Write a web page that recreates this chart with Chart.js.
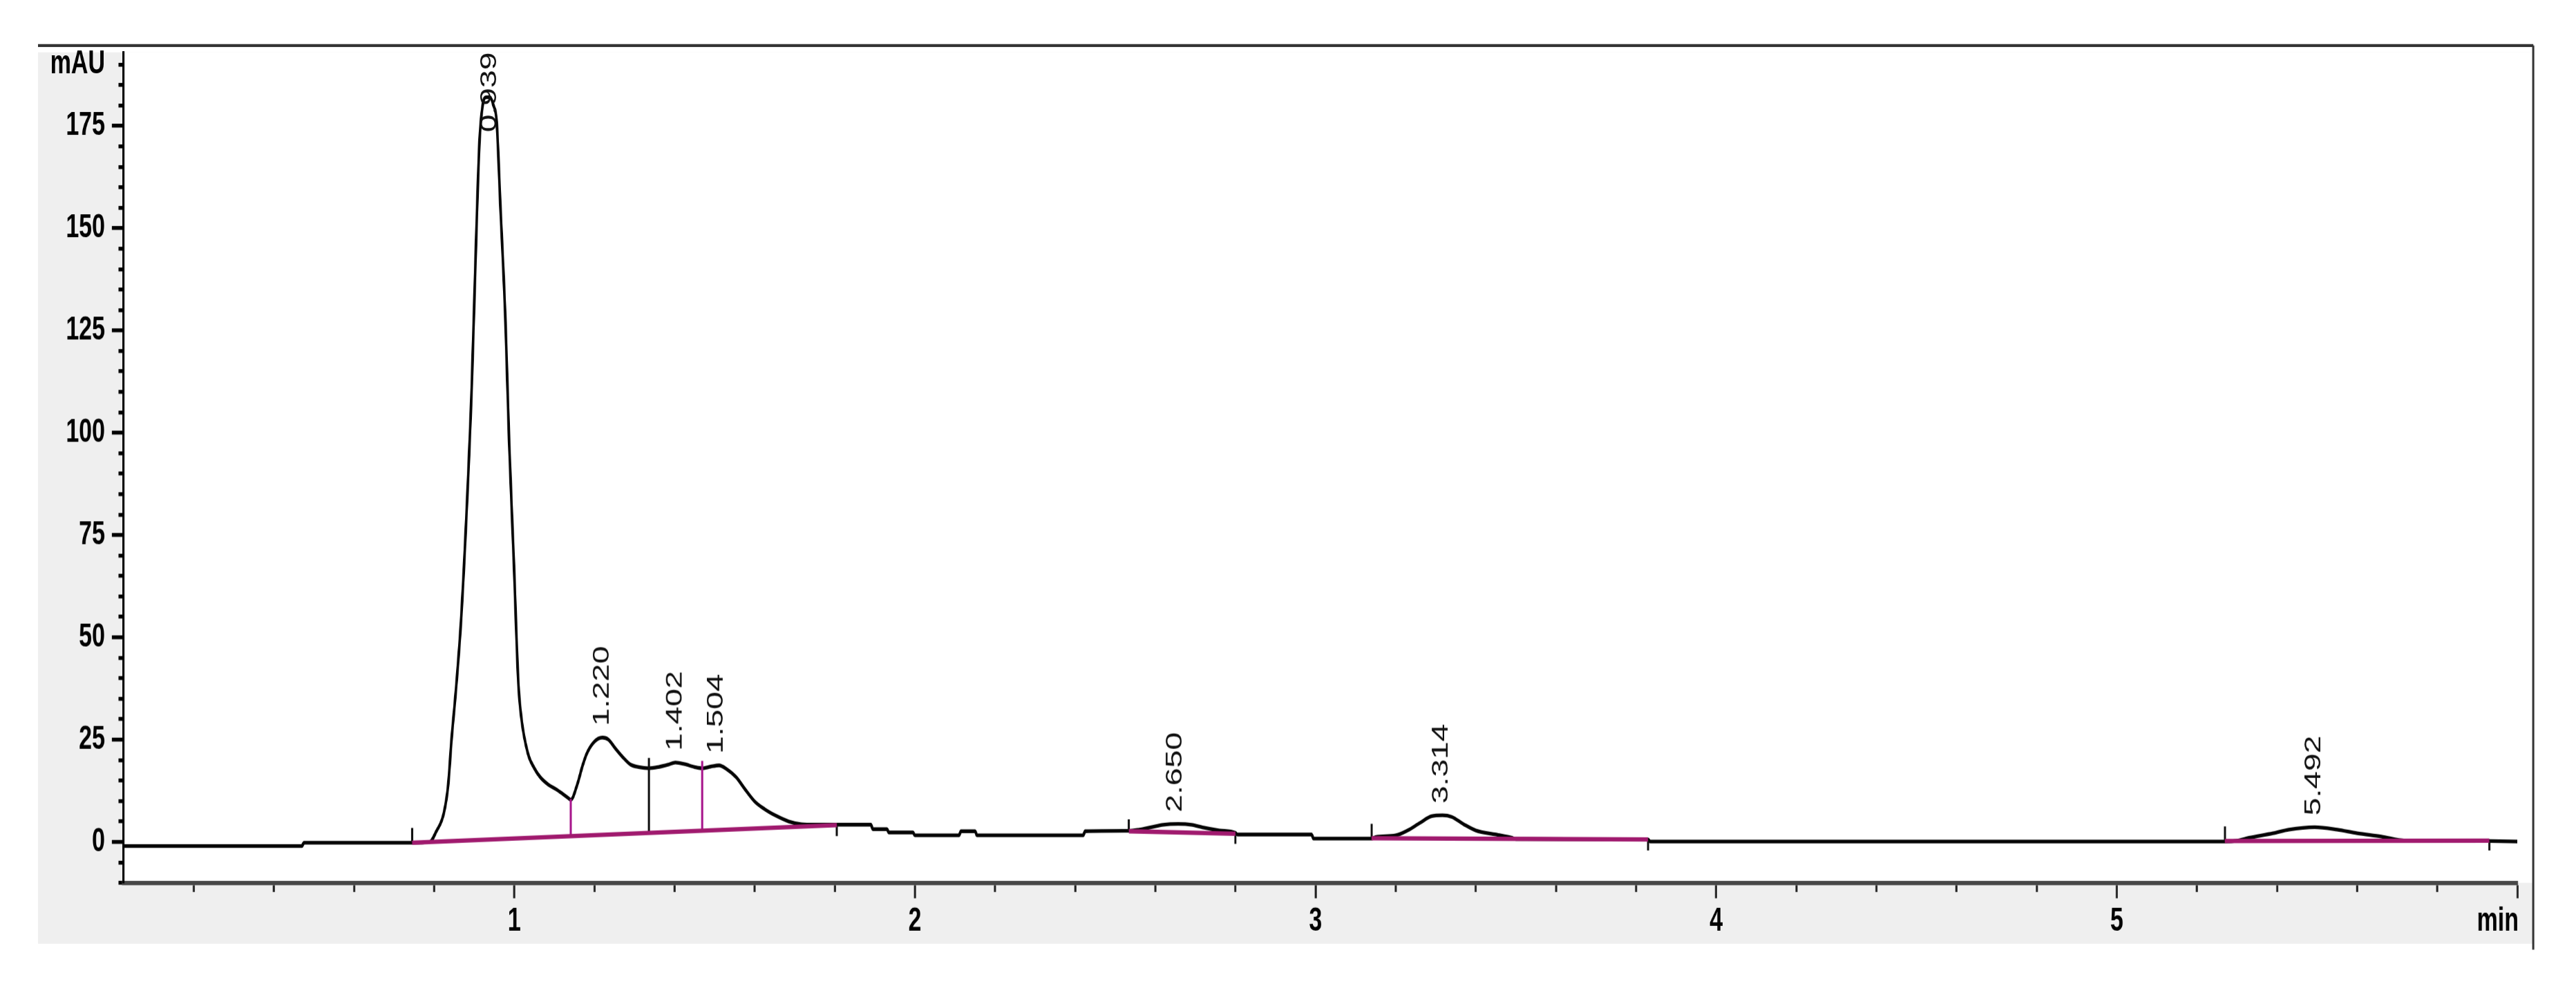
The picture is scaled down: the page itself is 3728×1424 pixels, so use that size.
<!DOCTYPE html>
<html>
<head>
<meta charset="utf-8">
<title>Chromatogram</title>
<script src="https://cdn.jsdelivr.net/npm/chart.js@4.4.1/dist/chart.umd.min.js"></script>
<style>
  html { margin: 0; padding: 0; background: #ffffff; overflow: hidden; }
  body { margin: 0; padding: 0; background: #ffffff; width: 3728px; height: 1424px; }
  /* the printout is stretched vertically, so the chart is drawn flat and stretched */
  .plot { width: 3728px; height: 1017px; transform: scaleY(1.4); transform-origin: 0 0; }
</style>
</head>
<body>
<div class="plot"><canvas id="chromatogram" width="3728" height="1017"></canvas></div>
<script>
// trace: retention time (min) and signal (mAU)
const times = [0.025, 0.470, 0.475, 0.745, 0.789, 0.805, 0.824, 0.835, 0.843, 0.855,
  0.867, 0.882, 0.894, 0.903, 0.913, 0.921, 0.930, 0.939, 0.948, 0.956,
  0.965, 0.978, 0.987, 0.999, 1.010, 1.018, 1.034, 1.050, 1.065, 1.085,
  1.104, 1.120, 1.135, 1.141, 1.158, 1.170, 1.181, 1.200, 1.220, 1.235,
  1.251, 1.270, 1.290, 1.310, 1.336, 1.360, 1.385, 1.402, 1.425, 1.450,
  1.469, 1.490, 1.511, 1.530, 1.554, 1.575, 1.600, 1.625, 1.655, 1.685,
  1.717, 1.750, 1.805, 1.890, 1.895, 1.930, 1.935, 1.995, 2.000, 2.110,
  2.115, 2.150, 2.155, 2.420, 2.425, 2.534, 2.560, 2.590, 2.620, 2.657,
  2.690, 2.720, 2.760, 2.800, 2.805, 2.990, 2.995, 3.140, 3.150, 3.200,
  3.230, 3.260, 3.290, 3.317, 3.340, 3.370, 3.400, 3.450, 3.490, 3.500,
  3.830, 3.835, 5.270, 5.300, 5.330, 5.390, 5.430, 5.494, 5.550, 5.600,
  5.660, 5.720, 5.930, 6.000];
const signal = [-1.0, -1.0, -0.2, -0.2, 0.0, 2.5, 7.0, 14.0, 24.6, 38.0,
  54.0, 83.0, 112.0, 141.5, 171.0, 180.0, 182.0, 182.0, 180.0, 176.0,
  156.0, 127.0, 98.0, 68.0, 39.0, 30.0, 21.6, 18.0, 15.8, 14.0,
  12.9, 11.8, 10.7, 10.3, 14.3, 18.5, 21.6, 24.5, 25.5, 25.0,
  23.0, 20.8, 18.9, 18.3, 18.0, 18.3, 18.9, 19.4, 19.0, 18.3,
  18.0, 18.4, 18.7, 17.8, 15.8, 13.0, 9.9, 8.0, 6.3, 5.0,
  4.3, 4.2, 4.2, 4.2, 3.1, 3.1, 2.3, 2.3, 1.6, 1.6,
  2.6, 2.6, 1.6, 1.6, 2.6, 2.7, 3.0, 3.6, 4.2, 4.4,
  4.2, 3.5, 2.8, 2.2, 1.8, 1.8, 0.8, 0.8, 1.2, 1.6,
  2.8, 4.6, 6.3, 6.5, 6.1, 4.3, 2.8, 1.8, 1.0, 0.7,
  0.6, 0.1, 0.1, 0.3, 1.0, 2.1, 3.0, 3.6, 3.0, 2.1,
  1.3, 0.3, 0.2, 0.1];

// peak annotations
const peakNames = ['0.939', '1.220', '1.402', '1.504', '2.650', '3.314', '5.492'];
const peakTimes = [0.939, 1.220, 1.402, 1.504, 2.650, 3.314, 5.492];
const peakHeights = [182.0, 25.5, 19.4, 18.7, 4.4, 6.5, 3.6];

// integration baselines (start / end of each peak group)
const baseStartT = [0.745, 2.534, 3.140, 5.270];
const baseStartV = [-0.2, 2.6, 0.9, 0.2];
const baseEndT = [1.805, 2.800, 3.830, 5.930];
const baseEndV = [4.1, 2.0, 0.6, 0.3];

// drop lines between unresolved peaks
const magentaDropT = [1.141, 1.469];
const magentaDropFrom = [1.4, 2.7];
const magentaDropTo = [10.5, 19.8];
const blackDropT = [1.336];
const blackDropFrom = [2.2];
const blackDropTo = [20.5];

// start / end event marks
const eventT = [0.745, 1.805, 2.534, 2.800, 3.140, 3.830, 5.270, 5.930];
const eventFrom = [-0.2, 4.1, 2.6, 2.0, 0.8, 0.6, 0.1, 0.2];
const eventTo = [3.4, 1.4, 5.5, -0.5, 4.4, -2.1, 3.8, -2.1];

// axis ticks
const xTicks = [0.2, 0.4, 0.6, 0.8, 1.0, 1.2, 1.4, 1.6, 1.8, 2.0,
  2.2, 2.4, 2.6, 2.8, 3.0, 3.2, 3.4, 3.6, 3.8, 4.0,
  4.2, 4.4, 4.6, 4.8, 5.0, 5.2, 5.4, 5.6, 5.8, 6.0];
const xMajorTicks = [1, 2, 3, 4, 5, 6];
const xMajorLabels = ['1', '2', '3', '4', '5', 'min      '];
const yTicks = [-10, -5, 0, 5, 10, 15, 20, 25, 30, 35, 40, 45, 50, 55, 60, 65, 70, 75,
  80, 85, 90, 95, 100, 105, 110, 115, 120, 125, 130, 135, 140, 145, 150, 155,
  160, 165, 170, 175, 180, 185, 190];
const yMajorTicks = [0, 25, 50, 75, 100, 125, 150, 175];
const yUnitTick = 190;
const yUnitLabel = 'mAU';

const FONT = '"Liberation Sans", Arial, sans-serif';
Chart.defaults.font.family = FONT;

function near(list, v) {
    return list.findIndex(m => Math.abs(m - v) < 1e-6);
}

function segments(t0, v0, t1, v1) {
    let pts = [];
    for (let i = 0; i < t0.length; i++) {
        pts.push({ x: t0[i], y: v0[i] }, { x: t1[i], y: v1[i] }, { x: t1[i], y: null });
    }
    return pts;
}

let trace = times.map((t, i) => ({ x: t, y: signal[i] }));

const panel = {
    id: 'panel',
    beforeDraw(chart) {
        const ctx = chart.ctx;
        const area = chart.chartArea;
        const xs = chart.scales.x;
        const ys = chart.scales.y;
        const frameRight = area.right + 23;
        ctx.save();
        ctx.fillStyle = '#efefef';
        ctx.fillRect(ys.left, area.top, frameRight - ys.left, xs.bottom - area.top);
        ctx.fillStyle = '#ffffff';
        ctx.fillRect(area.left, area.top, frameRight - area.left, area.bottom - area.top);
        ctx.restore();
    },
    afterDraw(chart) {
        const ctx = chart.ctx;
        const area = chart.chartArea;
        const xs = chart.scales.x;
        const ys = chart.scales.y;
        const frameRight = area.right + 23;
        const frameTop = area.top - 7;
        ctx.save();
        ctx.strokeStyle = '#333333';
        ctx.lineWidth = 3;
        ctx.beginPath();
        ctx.moveTo(ys.left, frameTop);
        ctx.lineTo(frameRight, frameTop);
        ctx.moveTo(frameRight, frameTop);
        ctx.lineTo(frameRight, xs.bottom + 6);
        ctx.stroke();
        ctx.restore();
    }
};

const peakLabels = {
    id: 'peakLabels',
    afterDatasetsDraw(chart) {
        const ctx = chart.ctx;
        const area = chart.chartArea;
        const xs = chart.scales.x;
        const ys = chart.scales.y;
        ctx.save();
        ctx.font = '33px ' + FONT;
        ctx.fillStyle = '#111111';
        ctx.textAlign = 'left';
        ctx.textBaseline = 'middle';
        for (let i = 0; i < peakNames.length; i++) {
            const w = ctx.measureText(peakNames[i]).width;
            let bottom = ys.getPixelForValue(peakHeights[i]) - 12;
            if (bottom - w < area.top) bottom = area.top + w;
            ctx.save();
            ctx.translate(xs.getPixelForValue(peakTimes[i]), bottom);
            ctx.rotate(-Math.PI / 2);
            ctx.fillText(peakNames[i], 0, 0);
            ctx.restore();
        }
        ctx.restore();
    }
};

const ctx = document.getElementById('chromatogram');

new Chart(ctx, {
    type: 'line',
    data: {
        datasets: [
            {
                label: 'baseline',
                data: segments(baseStartT, baseStartV, baseEndT, baseEndV),
                borderColor: '#a01a6e',
                borderWidth: 4.5,
                pointRadius: 0,
                spanGaps: false,
                order: 0
            },
            {
                label: 'drop magenta',
                data: segments(magentaDropT, magentaDropFrom, magentaDropT, magentaDropTo),
                borderColor: '#a8168c',
                borderWidth: 3,
                pointRadius: 0,
                spanGaps: false,
                order: 1
            },
            {
                label: 'drop black',
                data: segments(blackDropT, blackDropFrom, blackDropT, blackDropTo),
                borderColor: '#111111',
                borderWidth: 3,
                pointRadius: 0,
                spanGaps: false,
                order: 1
            },
            {
                label: 'events',
                data: segments(eventT, eventFrom, eventT, eventTo),
                borderColor: '#111111',
                borderWidth: 3,
                pointRadius: 0,
                spanGaps: false,
                order: 2
            },
            {
                label: 'signal',
                data: trace,
                borderColor: '#050505',
                borderWidth: 3.8,
                pointRadius: 0,
                cubicInterpolationMode: 'monotone',
                order: 5
            }
        ]
    },
    options: {
        responsive: false,
        animation: false,
        devicePixelRatio: 1.4,
        layout: {
            padding: { left: 55, right: 85, top: 54, bottom: 42 }
        },
        plugins: {
            legend: { display: false },
            tooltip: { enabled: false }
        },
        scales: {
            x: {
                type: 'linear',
                min: 0.025,
                max: 6.0,
                afterBuildTicks: s => { s.ticks = xTicks.map(v => ({ value: v })); },
                afterFit: s => { s.height = 63; },
                ticks: {
                    autoSkip: false,
                    maxRotation: 0,
                    minRotation: 0,
                    padding: 4,
                    color: '#000000',
                    font: { size: 34, weight: 'bold' },
                    callback: v => {
                        const i = near(xMajorTicks, v);
                        return i >= 0 ? xMajorLabels[i] : '';
                    }
                },
                grid: {
                    drawOnChartArea: false,
                    tickLength: 16,
                    tickWidth: 3,
                    tickColor: '#222222',
                    tickBorderDash: c => (c.tick && near(xMajorTicks, c.tick.value) >= 0) ? [] : [7, 1000],
                    tickBorderDashOffset: 0
                },
                border: { color: '#474747', width: 4.5 }
            },
            y: {
                type: 'linear',
                min: -10,
                max: 193,
                afterBuildTicks: s => { s.ticks = yTicks.map(v => ({ value: v })); },
                afterFit: s => { s.width = 124; },
                ticks: {
                    autoSkip: false,
                    padding: 10,
                    color: '#000000',
                    font: { size: 34, weight: 'bold' },
                    callback: v => {
                        if (Math.abs(v - yUnitTick) < 1e-6) return yUnitLabel;
                        return near(yMajorTicks, v) >= 0 ? String(v) : '';
                    }
                },
                grid: {
                    drawOnChartArea: false,
                    tickLength: 17,
                    tickWidth: 4,
                    tickColor: '#000000',
                    tickBorderDash: c => (c.tick && near(yMajorTicks, c.tick.value) >= 0) ? [] : [6, 1000],
                    tickBorderDashOffset: c => (c.tick && near(yMajorTicks, c.tick.value) >= 0) ? 0 : 996.5
                },
                border: { color: '#000000', width: 3 }
            }
        }
    },
    plugins: [panel, peakLabels]
});
</script>
</body>
</html>
